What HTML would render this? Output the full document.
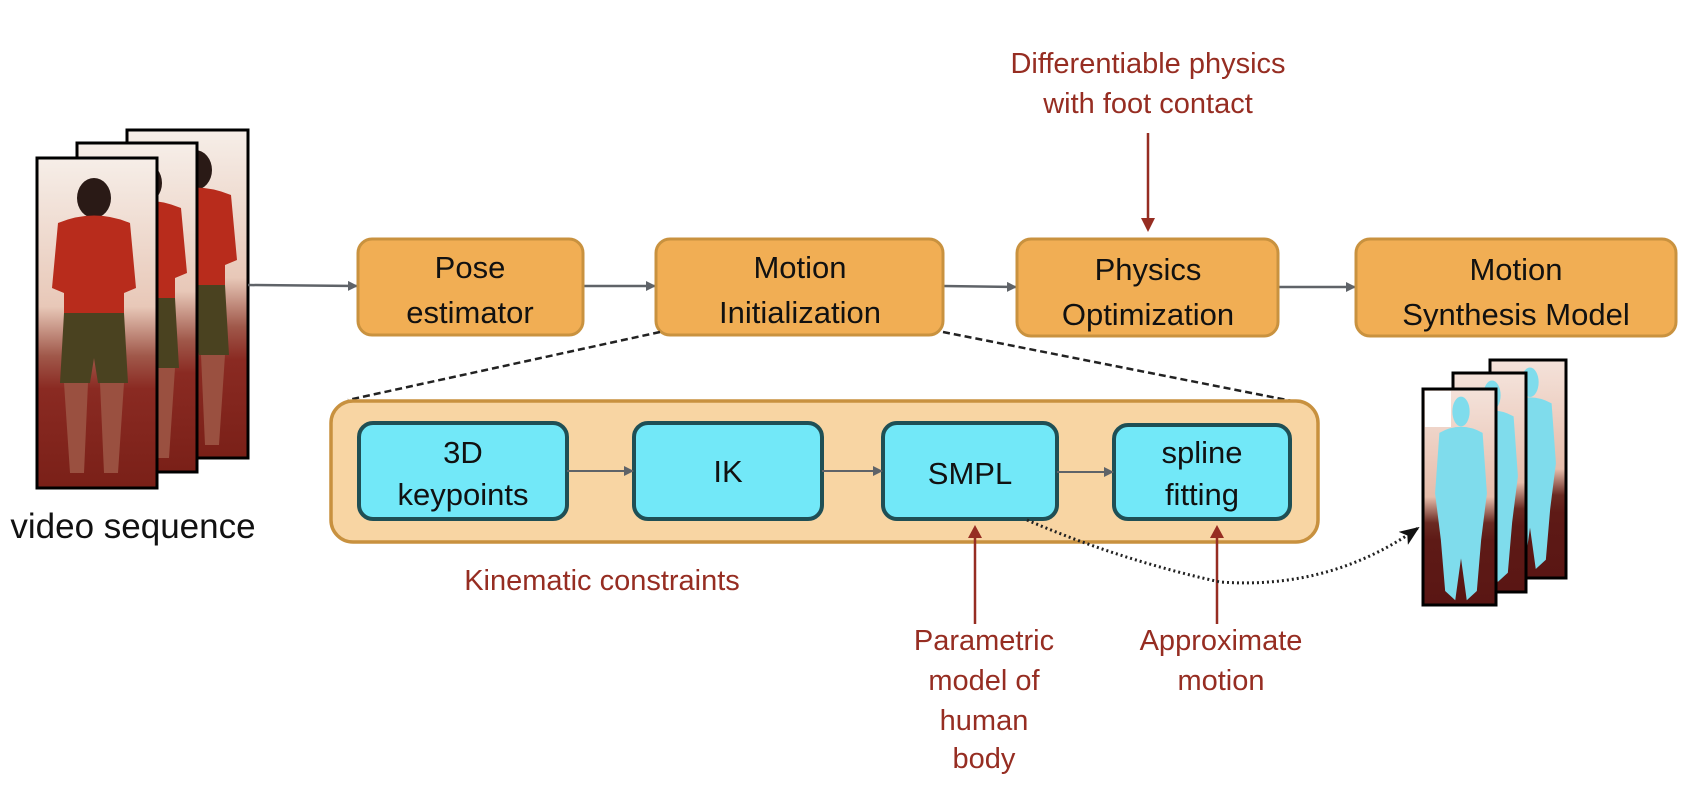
<!DOCTYPE html>
<html><head><meta charset="utf-8"><style>
html,body{margin:0;padding:0;background:#fff;}
svg{display:block;}
.b{font-family:"Liberation Sans",sans-serif;font-size:31px;fill:#111;text-anchor:middle;}
.r{font-family:"Liberation Sans",sans-serif;font-size:29px;fill:#962d22;text-anchor:middle;}
</style></head><body>
<svg width="1694" height="796" viewBox="0 0 1694 796" xmlns="http://www.w3.org/2000/svg">
<defs>
<marker id="ga" markerWidth="10" markerHeight="10" refX="9" refY="5" orient="auto" markerUnits="userSpaceOnUse"><path d="M0,0 L10,5 L0,10 z" fill="#5f6368"/></marker>
<marker id="ka" markerWidth="20" markerHeight="16" refX="18" refY="8" orient="auto" markerUnits="userSpaceOnUse"><path d="M0,0 L20,8 L0,16 L5,8 z" fill="#111"/></marker>
<linearGradient id="bg1" x1="0" y1="0" x2="0" y2="1">
<stop offset="0" stop-color="#f6eee8"/><stop offset="0.45" stop-color="#e8c8b8"/><stop offset="0.6" stop-color="#a0584a"/><stop offset="0.7" stop-color="#8a2a22"/><stop offset="1" stop-color="#7a2018"/></linearGradient>
<linearGradient id="bg2" x1="0" y1="0" x2="0" y2="1">
<stop offset="0" stop-color="#f4e2da"/><stop offset="0.5" stop-color="#e6bdab"/><stop offset="0.62" stop-color="#6a2a22"/><stop offset="0.7" stop-color="#5e1a16"/><stop offset="1" stop-color="#5a1614"/></linearGradient>
<g id="man">
<ellipse cx="0" cy="30" rx="17" ry="20" fill="#2a1a16"/>
<path d="M-36,55 Q0,40 36,55 L42,120 L30,125 L30,145 L-30,145 L-30,125 L-42,120 z" fill="#b82c1c"/>
<path d="M-30,145 L30,145 L34,215 L4,215 L0,190 L-4,215 L-34,215 z" fill="#4a4220"/>
<path d="M-30,215 L-6,215 L-10,305 L-24,305 z M6,215 L30,215 L24,305 L10,305 z" fill="#9a5040"/>
</g>
<g id="body">
<ellipse cx="0" cy="22" rx="12" ry="16" fill="#7fdcec"/>
<path d="M-30,45 Q0,32 30,45 L36,110 L28,160 L22,215 L8,225 L0,180 L-8,225 L-22,215 L-28,160 L-36,110 z" fill="#7fdcec"/>
</g>
</defs>

<!-- input video frames -->
<rect x="127" y="130" width="121" height="328" fill="url(#bg1)" stroke="#000" stroke-width="3"/>
<use href="#man" transform="translate(195,140)"/>
<rect x="77" y="143" width="120" height="329" fill="url(#bg1)" stroke="#000" stroke-width="3"/>
<use href="#man" transform="translate(145,153)"/>
<rect x="37" y="158" width="120" height="330" fill="url(#bg1)" stroke="#000" stroke-width="3"/>
<use href="#man" transform="translate(94,168)"/>
<rect x="37" y="158" width="120" height="330" fill="none" stroke="#000" stroke-width="3"/>
<text x="133" y="538" font-family="Liberation Sans, sans-serif" font-size="35" fill="#111" text-anchor="middle">video sequence</text>

<!-- main arrows -->
<g stroke="#5f6368" stroke-width="2.5" fill="none" marker-end="url(#ga)">
<line x1="248" y1="285" x2="357" y2="286"/>
<line x1="583" y1="286" x2="655" y2="286"/>
<line x1="943" y1="286" x2="1016" y2="287"/>
<line x1="1278" y1="287" x2="1355" y2="287"/>
</g>

<!-- orange boxes -->
<g fill="#f1ae54" stroke="#c9923f" stroke-width="3">
<rect x="358" y="239" width="225" height="96" rx="14"/>
<rect x="656" y="239" width="287" height="96" rx="14"/>
<rect x="1017" y="239" width="261" height="97" rx="14"/>
<rect x="1356" y="239" width="320" height="97" rx="14"/>
</g>
<text class="b" x="470" y="278">Pose</text><text class="b" x="470" y="323">estimator</text>
<text class="b" x="800" y="278">Motion</text><text class="b" x="800" y="323">Initialization</text>
<text class="b" x="1148" y="280">Physics</text><text class="b" x="1148" y="325">Optimization</text>
<text class="b" x="1516" y="280">Motion</text><text class="b" x="1516" y="325">Synthesis Model</text>

<!-- top annotation -->
<text class="r" x="1148" y="73">Differentiable physics</text>
<text class="r" x="1148" y="113">with foot contact</text>
<line x1="1148" y1="133" x2="1148" y2="218" stroke="#962d22" stroke-width="2.5"/>
<path d="M1141,218 L1155,218 L1148,232 z" fill="#962d22"/>

<!-- dashed zoom lines -->
<g stroke="#222" stroke-width="2.5" stroke-dasharray="7,4" fill="none">
<line x1="660" y1="332" x2="348" y2="400"/>
<line x1="943" y1="332" x2="1292" y2="401"/>
</g>

<!-- container -->
<rect x="331" y="401" width="987" height="141" rx="22" fill="#f8d5a3" stroke="#c8913f" stroke-width="3.5"/>
<g fill="#72e8f8" stroke="#1f4f55" stroke-width="4">
<rect x="359" y="423" width="208" height="96" rx="14"/>
<rect x="634" y="423" width="188" height="96" rx="14"/>
<rect x="883" y="423" width="174" height="96" rx="14"/>
<rect x="1114" y="425" width="176" height="94" rx="14"/>
</g>
<g stroke="#5f6368" stroke-width="2" fill="none" marker-end="url(#ga)">
<line x1="567" y1="471" x2="633" y2="471"/>
<line x1="822" y1="471" x2="882" y2="471"/>
<line x1="1057" y1="472" x2="1113" y2="472"/>
</g>
<text class="b" x="463" y="463">3D</text><text class="b" x="463" y="505">keypoints</text>
<text class="b" x="728" y="482">IK</text>
<text class="b" x="970" y="484">SMPL</text>
<text class="b" x="1202" y="463">spline</text><text class="b" x="1202" y="505">fitting</text>

<text class="r" x="602" y="590">Kinematic constraints</text>

<!-- bottom red arrows -->
<line x1="975" y1="624" x2="975" y2="538" stroke="#962d22" stroke-width="2.5"/>
<path d="M968,538 L982,538 L975,525 z" fill="#962d22"/>
<line x1="1217" y1="624" x2="1217" y2="538" stroke="#962d22" stroke-width="2.5"/>
<path d="M1210,538 L1224,538 L1217,525 z" fill="#962d22"/>
<text class="r" x="984" y="650">Parametric</text>
<text class="r" x="984" y="690">model of</text>
<text class="r" x="984" y="730">human</text>
<text class="r" x="984" y="768">body</text>
<text class="r" x="1221" y="650">Approximate</text>
<text class="r" x="1221" y="690">motion</text>

<!-- dotted curve -->
<path d="M1027,520 Q1120,560 1220,582 Q1330,590 1418,528" fill="none" stroke="#222" stroke-width="3" stroke-dasharray="2,3" marker-end="url(#ka)"/>

<!-- output frames -->
<rect x="1490" y="360" width="76" height="218" fill="url(#bg2)" stroke="#000" stroke-width="3"/>
<use href="#body" transform="translate(1530,362) scale(0.72,0.92)"/>
<rect x="1453" y="373" width="73" height="219" fill="url(#bg2)" stroke="#000" stroke-width="3"/>
<use href="#body" transform="translate(1492,375) scale(0.72,0.92)"/>
<rect x="1423" y="389" width="73" height="216" fill="url(#bg2)" stroke="#000" stroke-width="3"/>
<rect x="1425" y="391" width="26" height="36" fill="#fff"/>
<use href="#body" transform="translate(1461,391) scale(0.72,0.93)"/>
<rect x="1423" y="389" width="73" height="216" fill="none" stroke="#000" stroke-width="3"/>
</svg>
</body></html>
